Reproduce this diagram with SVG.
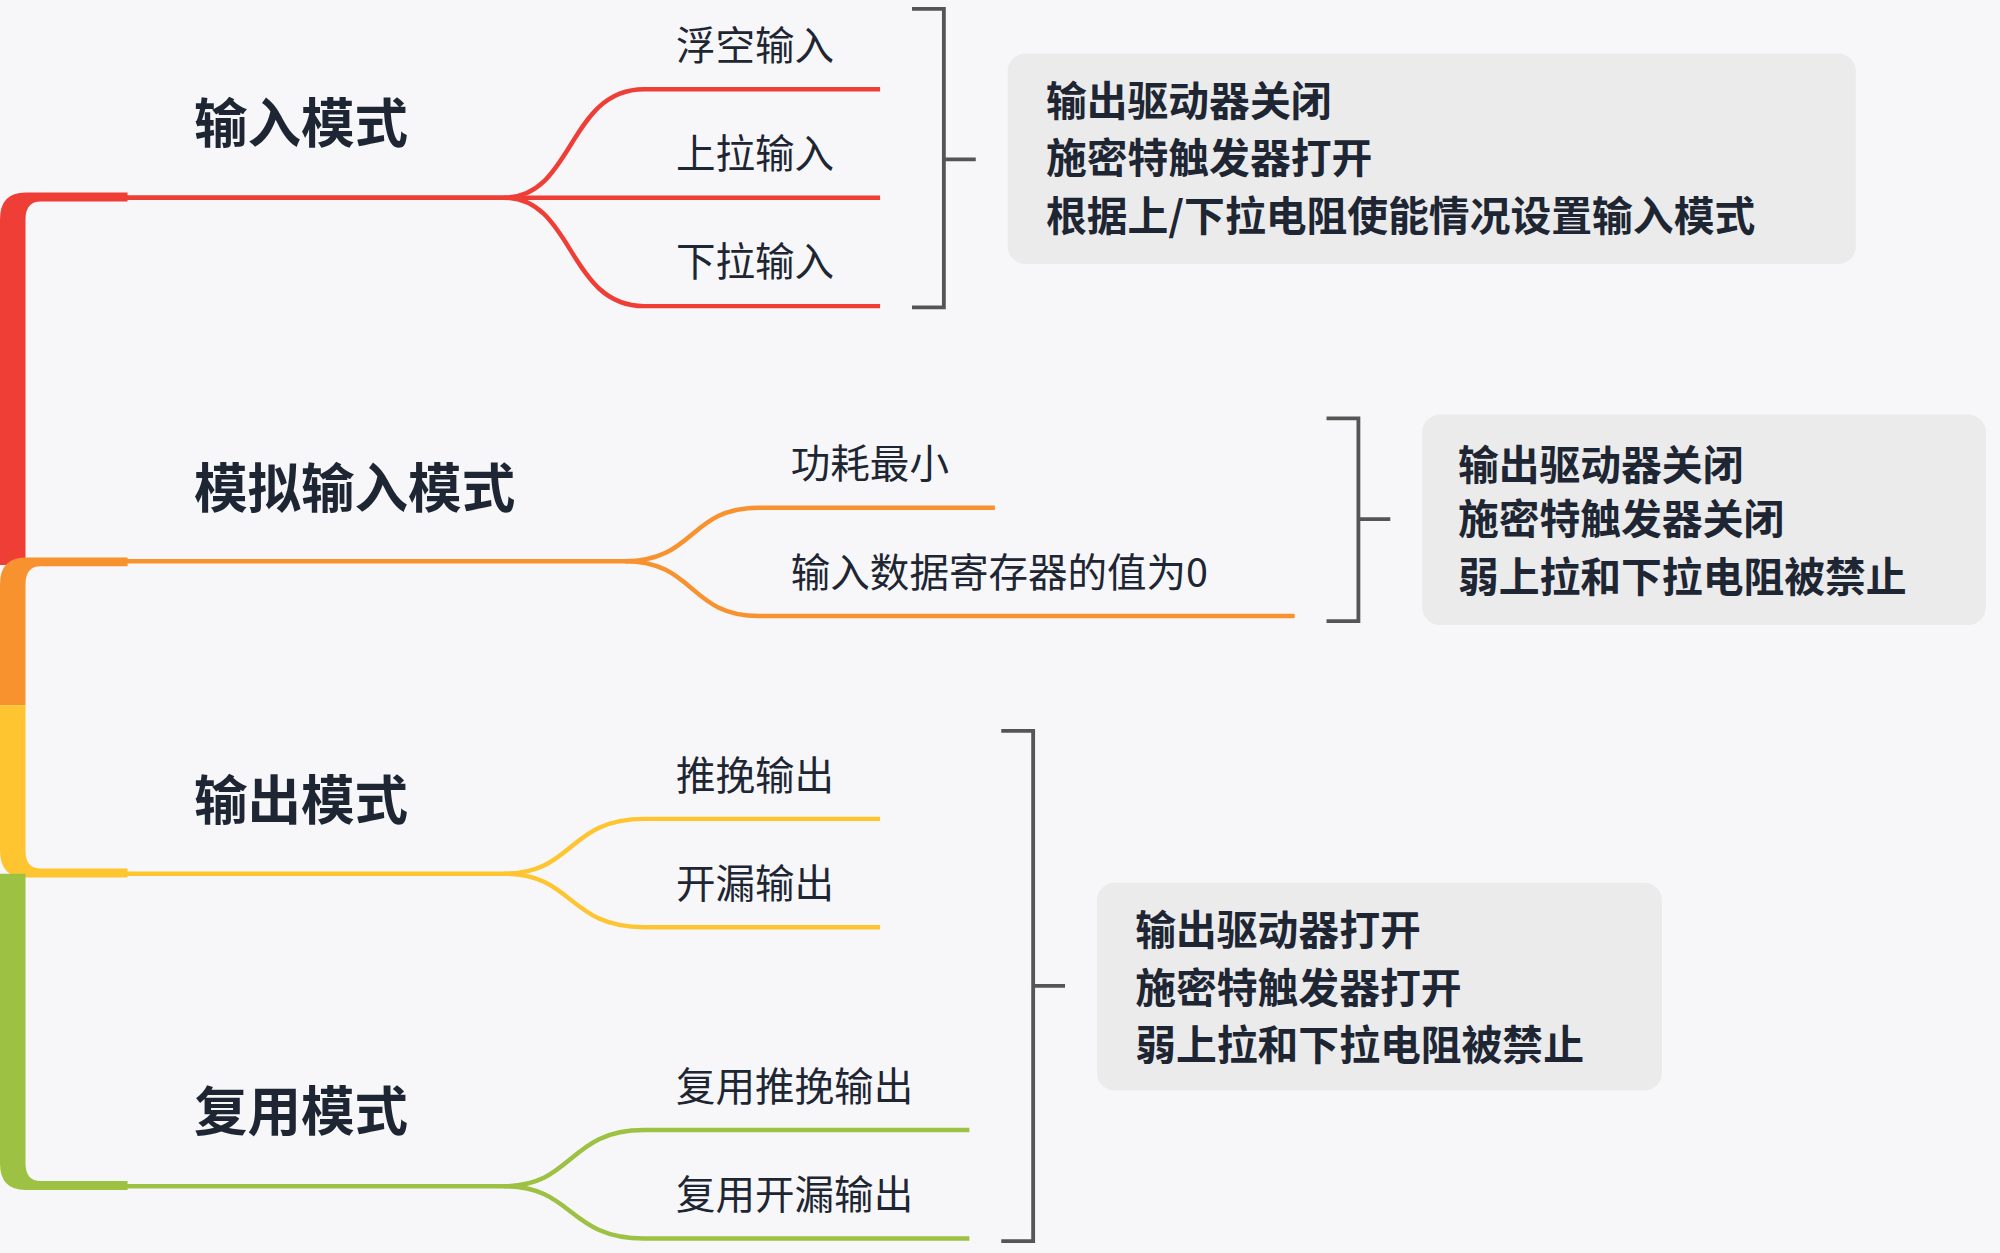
<svg xmlns="http://www.w3.org/2000/svg" width="2000" height="1253" viewBox="0 0 2000 1253">
<style>
.t{font-family:"Noto Sans CJK SC","Liberation Sans",sans-serif;fill:#1e2633}
.h{font-size:42px;font-weight:bold}
.l{font-size:31px}
.b{font-size:32px;font-weight:bold}
.c{fill:none;stroke-width:3.5}
.br{fill:none;stroke:#555;stroke-width:3}
.box{fill:#ebebeb}
</style>
<rect width="2000" height="1253" fill="#f7f7f9"/>
<g transform="scale(1.2755)">
<g id="connectors">
<path fill="#ef3e36" d="M0 443 V172 Q0 151 20 151 H100 V158 H32 Q20 158 20 172 V443 Z"/>
<path fill="#f7922f" d="M0 553 V458 Q0 437 20 437 H100 V444 H32 Q20 444 20 458 V553 Z"/>
<path fill="#fec530" d="M0 553 V667 Q0 688 20 688 H100 V681 H32 Q20 681 20 667 V553 Z"/>
<path fill="#9dc142" d="M0 685 V912 Q0 933 20 933 H100 V926 H32 Q20 926 20 912 V685 Z"/>
<g stroke="#ef3e36" class="c">
<path d="M98 155 H395 C450 155 445 70 505 70 H690"/>
<path d="M98 155 H690"/>
<path d="M395 155 C450 155 445 240 505 240 H690"/>
</g>
<g stroke="#f7922f" class="c">
<path d="M98 440 H490 C545 440 540 398 595 398 H780"/>
<path d="M490 440 C545 440 540 483 595 483 H1015"/>
</g>
<g stroke="#fec530" class="c">
<path d="M98 685 H395 C450 685 445 642 505 642 H690"/>
<path d="M395 685 C450 685 445 727 505 727 H690"/>
</g>
<g stroke="#9dc142" class="c">
<path d="M98 930 H395 C450 930 445 886 505 886 H760"/>
<path d="M395 930 C450 930 445 971 505 971 H760"/>
</g>
<path class="br" d="M715 7 H740 V241 H715 M740 125 H765"/>
<path class="br" d="M1040 328 H1065 V487 H1040 M1065 407 H1090"/>
<path class="br" d="M785 573 H810 V973 H785 M810 773 H835"/>
</g>
<g id="n-input"><text class="t h" x="152" y="112">输入模式</text></g>
<g id="n-analog"><text class="t h" x="152" y="398">模拟输入模式</text></g>
<g id="n-output"><text class="t h" x="152" y="643">输出模式</text></g>
<g id="n-af"><text class="t h" x="152" y="887">复用模式</text></g>
<g id="leaves" class="t l">
<text class="t l" x="530" y="47">浮空输入</text>
<text class="t l" x="530" y="132">上拉输入</text>
<text class="t l" x="530" y="216">下拉输入</text>
<text class="t l" x="620" y="375">功耗最小</text>
<text class="t l" x="620" y="460">输入数据寄存器的值为0</text>
<text class="t l" x="530" y="619">推挽输出</text>
<text class="t l" x="530" y="704">开漏输出</text>
<text class="t l" x="530" y="863">复用推挽输出</text>
<text class="t l" x="530" y="948">复用开漏输出</text>
</g>
<g id="note1"><rect class="box" x="790" y="42" width="665" height="165" rx="14"/>
<text class="t b" x="820" y="91">输出驱动器关闭</text><text class="t b" x="820" y="136">施密特触发器打开</text><text class="t b" x="820" y="181">根据上/下拉电阻使能情况设置输入模式</text></g>
<g id="note2"><rect class="box" x="1115" y="325" width="442" height="165" rx="14"/>
<text class="t b" x="1143" y="376">输出驱动器关闭</text><text class="t b" x="1143" y="419">施密特触发器关闭</text><text class="t b" x="1143" y="464">弱上拉和下拉电阻被禁止</text></g>
<g id="note3"><rect class="box" x="860" y="692" width="443" height="163" rx="14"/>
<text class="t b" x="890" y="741">输出驱动器打开</text><text class="t b" x="890" y="786">施密特触发器打开</text><text class="t b" x="890" y="831">弱上拉和下拉电阻被禁止</text></g>
</g>
</svg>
